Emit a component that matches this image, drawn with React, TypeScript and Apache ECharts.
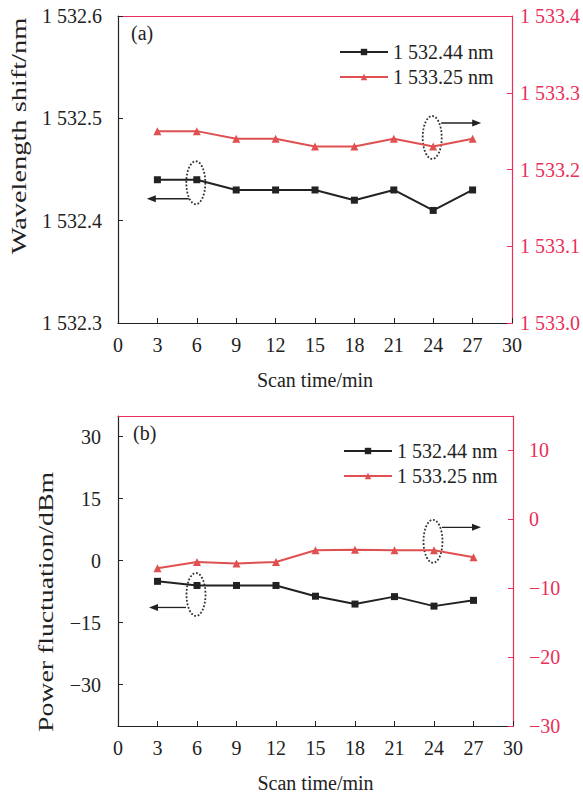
import React, { useEffect, useRef } from "react";
import * as echarts from "echarts";

const scanTime = [3, 6, 9, 12, 15, 18, 21, 24, 27];
const wlBlack = [1532.44, 1532.44, 1532.43, 1532.43, 1532.43, 1532.42, 1532.43, 1532.41, 1532.43];
const wlRed = [1533.25, 1533.25, 1533.24, 1533.24, 1533.23, 1533.23, 1533.24, 1533.23, 1533.24];
const pwBlack = [-5, -6, -6, -6, -8.6, -10.5, -8.7, -11, -9.6];
const pwRed = [-7.1, -6.2, -6.4, -6.2, -4.5, -4.4, -4.5, -4.5, -5.5];
const wlLeftTicks = [1532.3, 1532.4, 1532.5, 1532.6];
const wlRightTicks = [1533.0, 1533.1, 1533.2, 1533.3, 1533.4];
const pwLeftTicks = [-30, -15, 0, 15, 30];
const pwRightTicks = [-30, -20, -10, 0, 10];
const legendNames = ["1 532.44 nm", "1 533.25 nm"];
const xTitle = "Scan time/min";
const yTitleA = "Wavelength shift/nm";
const yTitleB = "Power fluctuation/dBm";

const FONT = "Liberation Serif";
const BLACK = "#222222";
const AXRED = "#e8305a";
const SERRED = "#e05050";

const fmtThousand = (v: number) => {
  const s = v.toFixed(1);
  return s[0] + " " + s.slice(1);
};
const fmtMinus = (v: number) => (v < 0 ? "\u2212" + Math.abs(v) : String(v));

function xAxisPair(grid: number) {
  return [
    {
      type: "value",
      gridIndex: grid,
      min: 0,
      max: 30,
      interval: 3,
      axisLine: { show: true, onZero: false, lineStyle: { color: BLACK, width: 1.2 } },
      axisTick: { show: true, inside: true, length: 5, lineStyle: { color: BLACK } },
      axisLabel: { color: BLACK, fontSize: 20, fontFamily: FONT, margin: 12 },
      splitLine: { show: false },
      name: xTitle,
      nameLocation: "middle",
      nameGap: 47,
      nameTextStyle: { color: BLACK, fontSize: 20, fontFamily: FONT },
    },
    {
      type: "value",
      gridIndex: grid,
      position: "top",
      min: 0,
      max: 30,
      axisLine: { show: true, onZero: false, lineStyle: { color: AXRED, width: 1.2 } },
      axisTick: { show: false },
      axisLabel: { show: false },
      splitLine: { show: false },
    },
  ];
}

function yAxis(
  grid: number,
  pos: "left" | "right",
  min: number,
  max: number,
  ticks: number[],
  fmt: (v: number) => string,
  margin: number
) {
  const color = pos === "left" ? BLACK : AXRED;
  return {
    type: "value",
    gridIndex: grid,
    position: pos,
    min,
    max,
    axisLine: { show: true, onZero: false, lineStyle: { color, width: 1.2 } },
    axisTick: { show: true, inside: true, length: 5, customValues: ticks, lineStyle: { color } },
    axisLabel: {
      color,
      fontSize: 20,
      fontFamily: FONT,
      margin,
      customValues: ticks,
      formatter: (v: number) => fmt(Number(v)),
    },
    splitLine: { show: false },
  };
}

function lineSeries(name: string, x: number, y: number, data: number[], red: boolean) {
  return {
    type: "line",
    name,
    xAxisIndex: x,
    yAxisIndex: y,
    data: scanTime.map((t, i) => [t, data[i]]),
    symbol: red ? "triangle" : "rect",
    symbolSize: red ? 8 : 7,
    lineStyle: { color: red ? SERRED : BLACK, width: 2 },
    itemStyle: { color: red ? SERRED : BLACK },
    color: red ? SERRED : BLACK,
  };
}

function arrow(x1: number, x2: number, y: number) {
  const dir = x2 > x1 ? 1 : -1;
  return [
    {
      type: "line",
      shape: { x1, y1: y, x2: x2 - dir * 6, y2: y },
      style: { stroke: BLACK, lineWidth: 1.3 },
      silent: true,
    },
    {
      type: "polygon",
      shape: { points: [[x2, y], [x2 - dir * 9, y - 3.5], [x2 - dir * 9, y + 3.5]] },
      style: { fill: BLACK },
      silent: true,
    },
  ];
}

function ellipse(cx: number, cy: number) {
  return {
    type: "ellipse",
    shape: { cx, cy, rx: 9.5, ry: 21.5 },
    style: { fill: "none", stroke: "#333", lineWidth: 1.8, lineDash: [1.8, 1.8] },
    silent: true,
  };
}

export default function App() {
  const ref = useRef<HTMLDivElement>(null);
  useEffect(() => {
    if (!ref.current) return;
    const chart = echarts.init(ref.current, undefined, { renderer: "svg" });
    const option: any = {
      animation: false,
      backgroundColor: "#ffffff",
      textStyle: { fontFamily: FONT },
      grid: [
        { left: 118, top: 16, width: 395, height: 307 },
        { left: 118, top: 416, width: 395, height: 310 },
      ],
      xAxis: [...xAxisPair(0), ...xAxisPair(1)],
      yAxis: [
        yAxis(0, "left", 1532.3, 1532.6, wlLeftTicks, fmtThousand, 16),
        yAxis(0, "right", 1533.0, 1533.4, wlRightTicks, fmtThousand, 8),
        yAxis(1, "left", -40, 35, pwLeftTicks, fmtMinus, 17),
        yAxis(1, "right", -30, 15, pwRightTicks, fmtMinus, 16),
      ],
      legend: [
        {
          orient: "vertical",
          left: 334,
          top: 37,
          itemWidth: 48,
          itemHeight: 8,
          itemGap: 5,
          data: legendNames,
          textStyle: { color: BLACK, fontSize: 20, fontFamily: FONT },
        },
        {
          orient: "vertical",
          left: 338,
          top: 436,
          itemWidth: 48,
          itemHeight: 8,
          itemGap: 5,
          data: legendNames,
          textStyle: { color: BLACK, fontSize: 20, fontFamily: FONT },
        },
      ],
      series: [
        lineSeries(legendNames[0], 0, 0, wlBlack, false),
        lineSeries(legendNames[1], 0, 1, wlRed, true),
        lineSeries(legendNames[0], 2, 2, pwBlack, false),
        lineSeries(legendNames[1], 2, 3, pwRed, true),
      ],
    };
    chart.setOption(option);

    const pA1 = chart.convertToPixel({ seriesIndex: 0 }, [scanTime[1], wlBlack[1]]) as number[];
    const pA2 = chart.convertToPixel({ seriesIndex: 1 }, [scanTime[7], wlRed[7]]) as number[];
    const pB1 = chart.convertToPixel({ seriesIndex: 2 }, [scanTime[1], pwBlack[1]]) as number[];
    const pB2 = chart.convertToPixel({ seriesIndex: 3 }, [scanTime[7], pwRed[7]]) as number[];

    const txt = (text: string) => ({
      text,
      fill: BLACK,
      fontSize: 20,
      fontFamily: FONT,
    });

    const graphic: any[] = [
      { type: "text", x: 131, y: 33, style: { ...txt("(a)"), verticalAlign: "middle" } },
      { type: "text", x: 133, y: 433, style: { ...txt("(b)"), verticalAlign: "middle" } },
      {
        type: "text",
        x: 19,
        y: 136,
        rotation: Math.PI / 2,
        scaleX: 1.42,
        style: { ...txt(yTitleA), align: "center", verticalAlign: "middle" },
      },
      {
        type: "text",
        x: 46,
        y: 602,
        rotation: Math.PI / 2,
        scaleX: 1.39,
        style: { ...txt(yTitleB), align: "center", verticalAlign: "middle" },
      },
      ellipse(pA1[0] - 1, pA1[1] + 3),
      ...arrow(pA1[0] - 8, pA1[0] - 50, pA1[1] + 19),
      ellipse(pA2[0] - 1, pA2[1] - 9),
      ...arrow(pA2[0] + 8, pA2[0] + 48, pA2[1] - 23.5),
      ellipse(pB1[0] - 1, pB1[1] + 9),
      ...arrow(pB1[0] - 11, pB1[0] - 48, pB1[1] + 22),
      ellipse(pB2[0] - 1, pB2[1] - 9),
      ...arrow(pB2[0] + 8, pB2[0] + 47, pB2[1] - 23),
    ];
    chart.setOption({ graphic });

    return () => chart.dispose();
  }, []);
  return (
    <div
      ref={ref}
      style={{ position: "fixed", left: 0, top: 0, width: 583, height: 795, background: "#fff" }}
    />
  );
}
